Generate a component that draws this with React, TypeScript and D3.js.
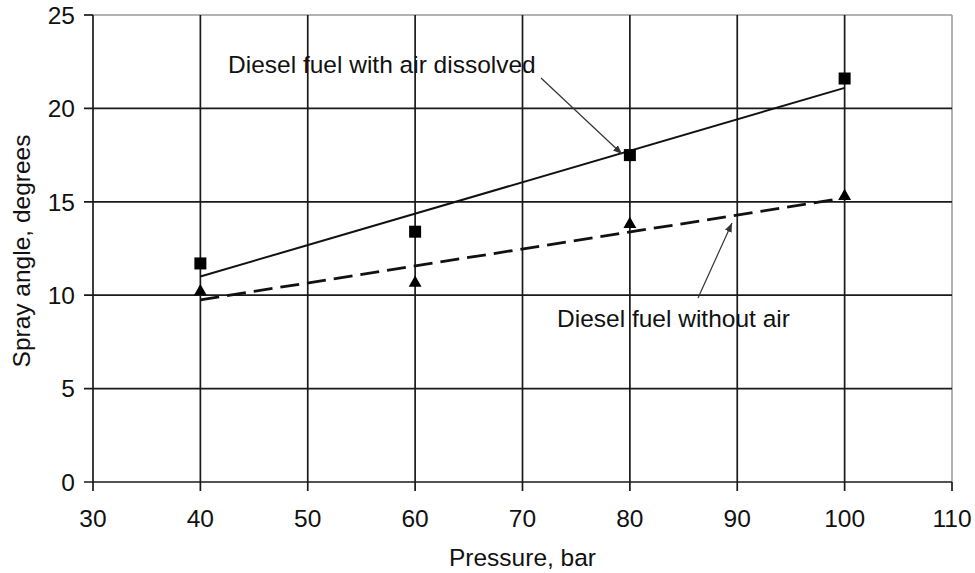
import React from "react";
import * as d3 from "d3";

const pressures = [40, 60, 80, 100];
const withAir = [11.7, 13.4, 17.5, 21.6];
const withoutAir = [10.2, 10.65, 13.8, 15.3];
const trendX = [40, 100];
const trendWithAir = [11.0, 21.1];
const trendWithoutAir = [9.75, 15.2];
const xTicks = [30, 40, 50, 60, 70, 80, 90, 100, 110];
const yTicks = [0, 5, 10, 15, 20, 25];

const W = 975;
const H = 573;
const FONT = "'Liberation Sans', Arial, Helvetica, sans-serif";
const FS = 24.5;

export default function App() {
  const x = d3.scaleLinear().domain([30, 110]).range([93, 952]);
  const y = d3.scaleLinear().domain([0, 25]).range([482, 15]);
  const line = d3
    .line<[number, number]>()
    .x((d) => x(d[0]))
    .y((d) => y(d[1]));
  const solidPts = trendX.map((v, i) => [v, trendWithAir[i]] as [number, number]);
  const dashPts = trendX.map((v, i) => [v, trendWithoutAir[i]] as [number, number]);
  const tri = d3.symbol().type(d3.symbolTriangle).size(72)();

  const x0 = x(30), x1 = x(110), y0 = y(0), y1 = y(25);

  return (
    <svg
      width={W}
      height={H}
      style={{ position: "absolute", left: 0, top: 0, background: "#fff" }}
      fontFamily={FONT}
    >
      <defs>
        <marker id="ah" viewBox="0 0 10 10" refX="10" refY="5" markerWidth="9" markerHeight="9" orient="auto" markerUnits="userSpaceOnUse">
          <path d="M0,1 L10,5 L0,9 Z" fill="#333" />
        </marker>
      </defs>
      {/* plot border (light) */}
      <line x1={x0} x2={x1} y1={y1} y2={y1} stroke="#999" strokeWidth={1.5} />
      <line x1={x1} x2={x1} y1={y1} y2={y0} stroke="#999" strokeWidth={1.5} />
      {/* horizontal grid */}
      {yTicks.filter((t) => t !== 25).map((t) => (
        <line key={"hy" + t} x1={x0 - 9} x2={x1} y1={y(t)} y2={y(t)} stroke="#1a1a1a" strokeWidth={1.7} />
      ))}
      <line x1={x0 - 9} x2={x0} y1={y1} y2={y1} stroke="#1a1a1a" strokeWidth={1.7} />
      {/* vertical grid */}
      {xTicks.map((t) => (
        <line key={"vx" + t} x1={x(t)} x2={x(t)} y1={t === 110 ? y0 : y1} y2={y0 + 9} stroke="#1a1a1a" strokeWidth={1.7} />
      ))}
      {/* y tick labels */}
      {yTicks.map((t) => (
        <text key={"yl" + t} x={75} y={y(t)} dy="0.36em" textAnchor="end" fontSize={FS} fill="#111">
          {t}
        </text>
      ))}
      {/* x tick labels */}
      {xTicks.map((t) => (
        <text key={"xl" + t} x={x(t)} y={527} textAnchor="middle" fontSize={FS} fill="#111">
          {t}
        </text>
      ))}
      <text x={(x0 + x1) / 2} y={566} textAnchor="middle" fontSize={FS} fill="#111">
        Pressure, bar
      </text>
      <text transform={`translate(30,${251}) rotate(-90)`} textAnchor="middle" fontSize={FS} fill="#111">
        Spray angle, degrees
      </text>
      {/* trend lines */}
      <path d={line(solidPts) || ""} fill="none" stroke="#111" strokeWidth={2} />
      <path d={line(dashPts) || ""} fill="none" stroke="#111" strokeWidth={2.8} strokeDasharray="19 8" />
      {/* markers */}
      {pressures.map((p, i) => (
        <rect key={"sq" + p} x={x(p) - 6} y={y(withAir[i]) - 6} width={12} height={12} fill="#000" />
      ))}
      {pressures.map((p, i) => (
        <path key={"tr" + p} d={tri || ""} transform={`translate(${x(p)},${y(withoutAir[i])})`} fill="#000" />
      ))}
      {/* annotations */}
      <text x={228} y={73} fontSize={FS} fill="#111">
        Diesel fuel with air dissolved
      </text>
      <line x1={541} y1={78} x2={622} y2={154} stroke="#333" strokeWidth={1.2} markerEnd="url(#ah)" />
      <text x={557} y={327} fontSize={FS} fill="#111">
        Diesel fuel without air
      </text>
      <line x1={698} y1={298} x2={732} y2={223} stroke="#333" strokeWidth={1.2} markerEnd="url(#ah)" />
    </svg>
  );
}
